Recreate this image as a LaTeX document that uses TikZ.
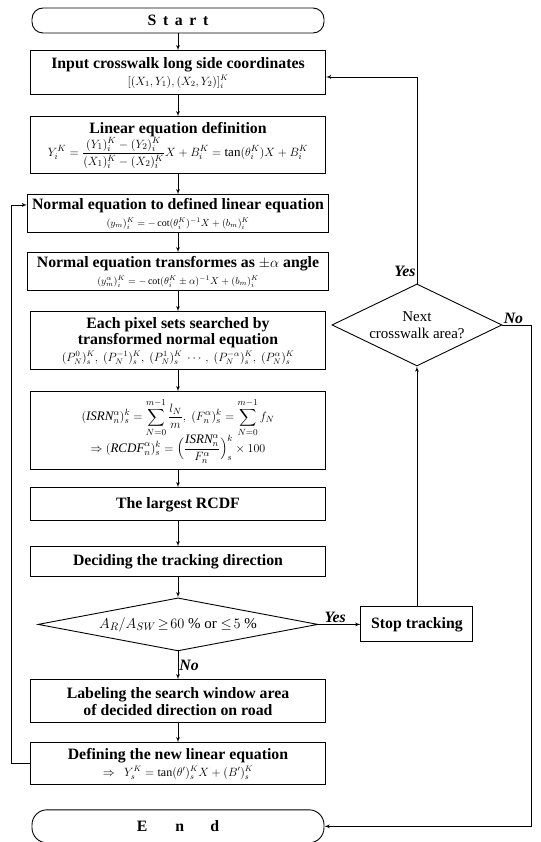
\documentclass[tikz,border=0pt]{standalone}
\usepackage{fontspec}
\setmainfont{Liberation Serif}
\usepackage{amsmath}
\usepackage{tikz}
\usetikzlibrary{shapes,arrows}
\usetikzlibrary{shapes,arrows, positioning}

\tikzstyle{block} = [rectangle, draw, line width=1pt, align=center, minimum width=295pt, inner xsep=2pt, inner ysep=0pt, font=\bfseries\fontsize{15.8}{16.5}\selectfont]
\tikzstyle{term} = [rectangle, draw, line width=0.9pt, rounded corners=11pt, minimum width=292pt, font=\bfseries\fontsize{15.8}{17}\selectfont]
\tikzstyle{decision} = [diamond, draw, line width=0.9pt, inner sep=0pt, align=center]
\tikzstyle{line} = [draw, line width=0.8pt, -latex']
\tikzstyle{lbl} = [font=\bfseries\itshape\fontsize{15.8}{17}\selectfont, inner sep=1pt]

\newcommand{\eqsize}{\fontsize{12}{14}\selectfont}
\newcommand{\eqsmall}{\fontsize{10}{12}\selectfont}
\newcommand{\eqlarge}{\fontsize{13}{15}\selectfont}

\begin{document}
\begin{tikzpicture}[x=1pt, y=1pt, auto]
    \useasboundingbox (0,0) rectangle (540,-842);
    % Place nodes
    \node [term, minimum height=25pt] (start) at (178,-20.5) {S\, t\, a\, r\, t};
    \node [block, minimum height=44pt, below=17pt of start] (input) {Input crosswalk long side coordinates\\ {\eqsize $[(X_1,Y_1),(X_2,Y_2)]^K_i$}};
    \node [block, minimum height=57pt, below=21pt of input] (lineq) {Linear equation definition\\ {\eqlarge $Y^K_i=\dfrac{(Y_1)^K_i-(Y_2)^K_i}{(X_1)^K_i-(X_2)^K_i}X+B^K_i=\tan(\theta^K_i)X+B^K_i$}};
    \node [block, minimum width=301pt, minimum height=38pt, below=20pt of lineq] (normal) {Normal equation to defined linear equation\\ {\eqsmall $(y_m)^K_i=-\cot(\theta^K_i)^{-1}X+(b_m)^K_i$}};
    \node [block, minimum width=301pt, minimum height=38pt, below=19pt of normal] (trans) {Normal equation transformes as $\pm\alpha$ angle\\ {\eqsmall $(y^\alpha_m)^K_i=-\cot(\theta^K_i\pm\alpha)^{-1}X+(b_m)^K_i$}};
    \node [block, minimum height=58pt, below=20pt of trans] (pixel) {Each pixel sets searched by\\ transformed normal equation\\ {\eqsize $(P^0_N)^K_s,\ (P^{-1}_N)^K_s,\ (P^1_N)^K_s\ \cdots,\ (P^{-\alpha}_N)^K_s,\ (P^\alpha_N)^K_s$}};
    \node [block, minimum height=78pt, below=21pt of pixel] (rcdf) {{\eqlarge $\displaystyle(\mathit{ISRN}^\alpha_n)^k_s=\sum_{N=0}^{m-1}\frac{l_N}{m},\ (F^\alpha_n)^k_s=\sum_{N=0}^{m-1}f_N$}\\[-3pt] {\eqlarge $\displaystyle\Rightarrow(\mathit{RCDF}^\alpha_n)^k_s=\Bigl(\frac{\mathit{ISRN}^\alpha_n}{F^\alpha_n}\Bigr)^k_s\times100$}};
    \node [block, minimum height=33pt, below=17pt of rcdf] (large) {The largest RCDF};
    \node [block, minimum height=30pt, below=25pt of large] (decide) {Deciding the tracking direction};
    \node [decision, aspect=5.3, minimum width=280pt, minimum height=53pt, below=20pt of decide, font=\fontsize{15}{17}\selectfont] (dec) {$A_R/A_{SW}\!\geq\!60$ \% or $\leq\!5$ \%};
    \node [block, minimum width=112pt, minimum height=35pt, right=42pt of dec] (stop) {Stop tracking};
    \node [decision, aspect=2, minimum width=170pt, minimum height=82pt, above=240pt of stop, font=\fontsize{15}{17}\selectfont] (next) {Next\\ crosswalk area?};
    \node [block, minimum height=43pt, below=28pt of dec] (label) {Labeling the search window area\\ of decided direction on road};
    \node [block, minimum height=42pt, below=19pt of label] (newlin) {Defining the new linear equation\\ {\eqsize $\Rightarrow\ \ Y^K_s=\tan(\theta')^K_sX+(B')^K_s$}};
    \node [term, minimum height=33pt, rounded corners=15pt, below=24pt of newlin] (end) {E\hspace{28pt}n\hspace{26pt}d};

    \path [line] (start) -- (input);
    \path [line] (input) -- (lineq);
    \path [line] (lineq) -- (normal);
    \path [line] (normal) -- (trans);
    \path [line] (trans) -- (pixel);
    \path [line] (pixel) -- (rcdf);
    \path [line] (rcdf) -- (large);
    \path [line] (large) -- (decide);
    \path [line] (decide) -- (dec);
    \path [line] (dec) -- node[lbl, pos=0.4, above] {Yes} (stop);
    \path [line] (dec) -- node[lbl, right] {No} (label);
    \path [line] (label) -- (newlin);
    \path [line] (stop) -- (next);
    \path [line] (next.north) |- node[lbl, pos=0.03, left] {Yes} ([yshift=-4pt]input.east);
    \path [line] (next.east) -- node[lbl, pos=0, above right] {No} ++(29,0) |- (end.east);
    \path [line] (newlin.west) -- ++(-19,0) |- ([yshift=9pt]normal.west);

\end{tikzpicture}
\end{document}
